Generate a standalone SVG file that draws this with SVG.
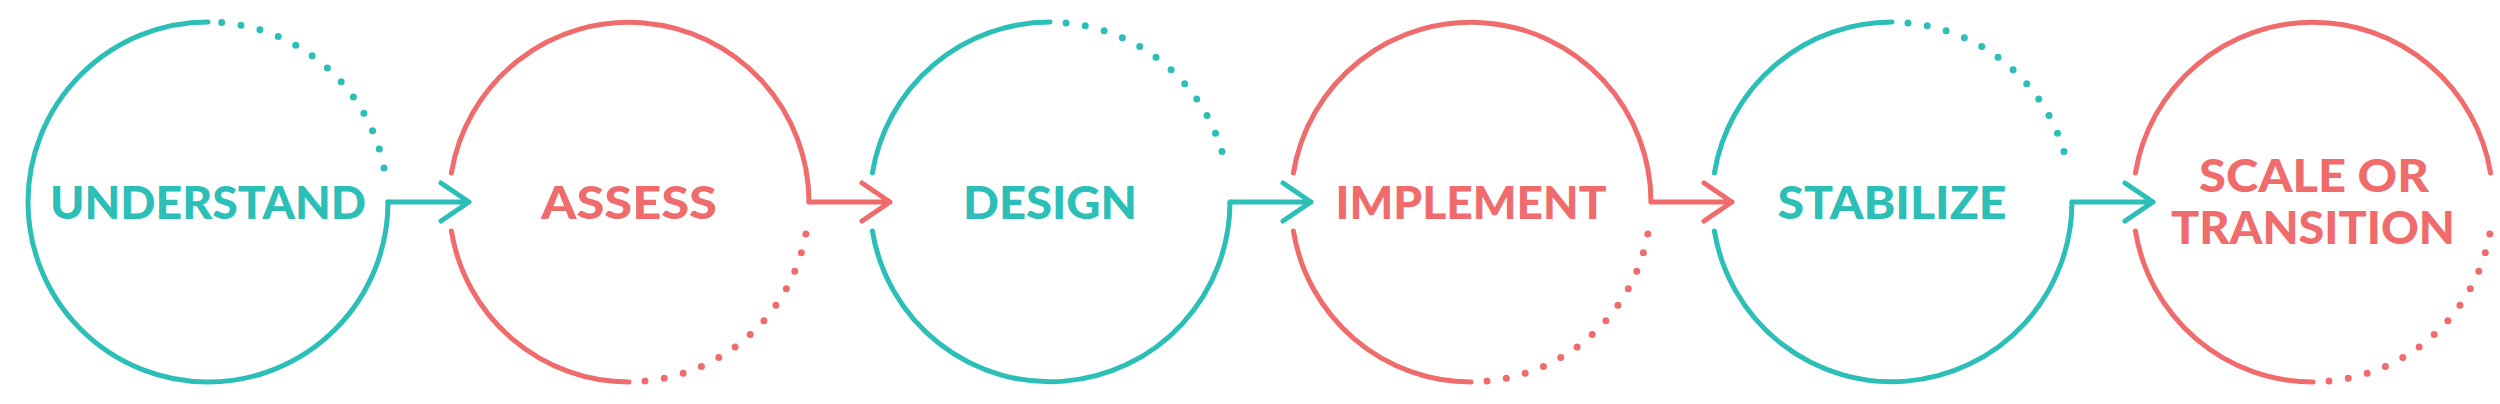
<svg xmlns="http://www.w3.org/2000/svg" width="2500" height="404" viewBox="0 0 2500 404">
<style>
.t{stroke:#2bbfb7}.c{stroke:#f06b6b}
path{fill:none;stroke-width:5;stroke-linecap:round;stroke-linejoin:round}
.d{stroke-width:7;stroke-dasharray:0 19.5}
text{font-family:Lato,"Open Sans",sans-serif;font-weight:900;font-size:46px;text-anchor:middle}
.tt{fill:#2bbfb7}.ct{fill:#f06b6b}
</style>
<rect width="2500" height="404" fill="#fff"/>
<g id="n1">
<path class="t" d="M208 22A180 180 0 1 0 388 202"/>
<path class="t d" d="M384 168A180 180 0 0 0 208 22"/>
<text class="tt" x="208" y="219" textLength="316" lengthAdjust="spacingAndGlyphs">UNDERSTAND</text>
</g>
<g id="n2">
<path class="c" d="M451.4 173A180 180 0 0 1 809 202"/>
<path class="c" d="M451.4 231A180 180 0 0 0 629 382"/>
<path class="c d" d="M645 381A180 180 0 0 0 806 233"/>
<text class="ct" x="629" y="219" textLength="176" lengthAdjust="spacingAndGlyphs">ASSESS</text>
</g>
<g id="n3">
<path class="t" d="M872.4 173A180 180 0 0 1 1050 22"/>
<path class="t d" d="M1066 23A180 180 0 0 1 1226 168"/>
<path class="t" d="M872.4 231A180 180 0 0 0 1230 202"/>
<text class="tt" x="1050" y="219" textLength="174" lengthAdjust="spacingAndGlyphs">DESIGN</text>
</g>
<g id="n4">
<path class="c" d="M1293.4 173A180 180 0 0 1 1651 202"/>
<path class="c" d="M1293.4 231A180 180 0 0 0 1471 382"/>
<path class="c d" d="M1487 381A180 180 0 0 0 1648 233"/>
<text class="ct" x="1471" y="219" textLength="271" lengthAdjust="spacingAndGlyphs">IMPLEMENT</text>
</g>
<g id="n5">
<path class="t" d="M1714.4 173A180 180 0 0 1 1892 22"/>
<path class="t d" d="M1908 23A180 180 0 0 1 2068 168"/>
<path class="t" d="M1714.4 231A180 180 0 0 0 2072 202"/>
<text class="tt" x="1892" y="219" textLength="229" lengthAdjust="spacingAndGlyphs">STABILIZE</text>
</g>
<g id="n6">
<path class="c" d="M2135.4 173A180 180 0 0 1 2490.6 173"/>
<path class="c" d="M2135.4 231A180 180 0 0 0 2313 382"/>
<path class="c d" d="M2329 381A180 180 0 0 0 2490 233"/>
<text class="ct" x="2314" y="192" textLength="230" lengthAdjust="spacingAndGlyphs">SCALE OR</text>
<text class="ct" x="2313" y="244" textLength="284" lengthAdjust="spacingAndGlyphs">TRANSITION</text>
</g>
<g id="connectors">
<path class="t" d="M388 202H469M441 183L469 202L441 221"/>
<path class="c" d="M809 202H890M862 183L890 202L862 221"/>
<path class="t" d="M1230 202H1311M1283 183L1311 202L1283 221"/>
<path class="c" d="M1651 202H1732M1704 183L1732 202L1704 221"/>
<path class="t" d="M2072 202H2153M2125 183L2153 202L2125 221"/>
</g>
</svg>
